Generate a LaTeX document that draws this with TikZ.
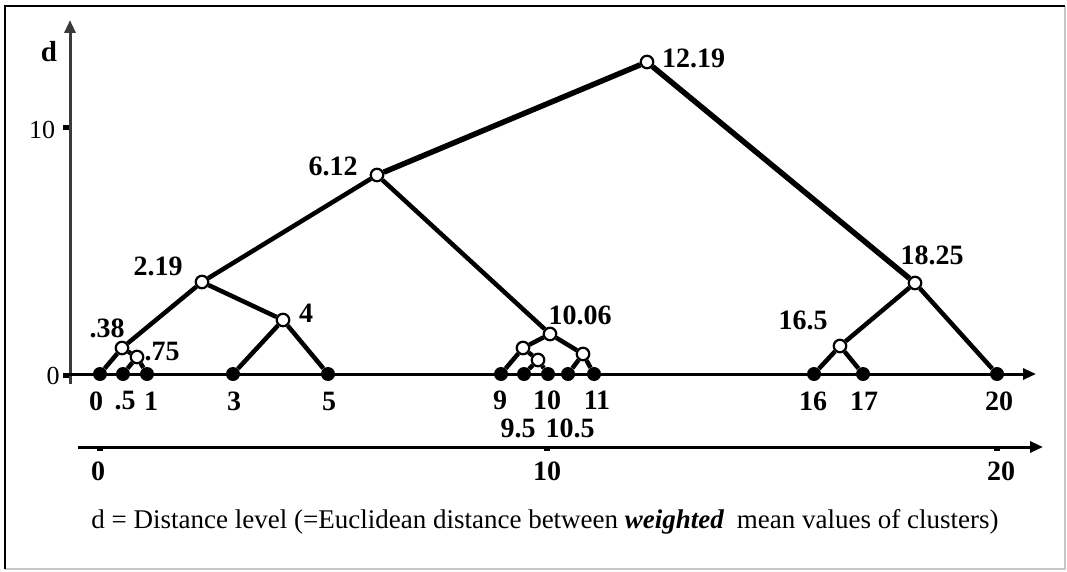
\documentclass[tikz,border=0pt]{standalone}
\usepackage{fontspec}
\setmainfont{Liberation Serif}
\usepackage{tikz}
\usetikzlibrary{arrows.meta}
\definecolor{DendroInk}{HTML}{000000}
\definecolor{DendroAxis}{HTML}{3A3A3A}
\definecolor{DendroFrame}{HTML}{C8C8C8}

\begin{document}
\begin{tikzpicture}[x=1pt,y=-1pt,>={Triangle[length=13pt,width=11pt]},
  leaf/.style={circle,fill=DendroInk,inner sep=0pt,minimum size=14pt},
  merge/.style={circle,draw=DendroInk,fill=white,line width=2.2pt,
    inner sep=0pt,minimum size=12.5pt},
  branch/.style={line width=4.5pt,DendroInk},
  trunk/.style={line width=5.5pt,DendroInk},
  lab/.style={font=\fontsize{28}{30}\selectfont\bfseries,inner sep=0pt},
  axlab/.style={font=\fontsize{26}{30}\selectfont,inner sep=0pt},
  axline/.style={line width=3pt,DendroAxis},
  axtick/.style={rectangle,fill=DendroInk,inner sep=0pt,
    minimum width=6pt,minimum height=5pt}]
  \useasboundingbox (0,0) rectangle (1067,572);
  % frame
  \draw[line width=1.5pt,DendroFrame] (1065,6) -- (1065,569) -- (5,569);
  \draw[line width=1.5pt,black] (5,569) -- (5,6) -- (1065,6);

  % axes
  \coordinate (yfoot) at (70,384);
  \coordinate (ytop) at (70,20);
  \coordinate (xstart) at (64,374);
  \coordinate (xend) at (1036,374);
  \coordinate (sstart) at (78,447);
  \coordinate (send) at (1043,447);
  \draw[axline,->] (yfoot) -- (ytop);
  \draw[axline,DendroInk,->] (xstart) -- (xend);
  \draw[axline,DendroInk,->] (sstart) -- (send);
  \node[axtick] (ytten) at (66,128) {};
  \node[axtick] (ytzero) at (66,375) {};
  \node[axtick] (stzero) at (100,448) {};
  \node[axtick] (stten) at (547,448) {};
  \node[axtick] (sttwenty) at (997,448) {};
  \node[font=\fontsize{29}{30}\selectfont\bfseries,inner sep=0pt] (dlab) at (49,52) {d};
  \node[axlab] (ylten) at (42,130) {10};
  \node[axlab] (ylzero) at (53,376) {0};
  \node[lab] (slzero) at (98,471) {0};
  \node[lab] (slten) at (547,471) {10};
  \node[lab] (sltwenty) at (1001,471) {20};

  % leaves
  \node[leaf] (p0) at (100,374) {};
  \node[leaf] (p05) at (123,374) {};
  \node[leaf] (p1) at (147,374) {};
  \node[leaf] (p3) at (233,374) {};
  \node[leaf] (p5) at (328,374) {};
  \node[leaf] (p9) at (501,374) {};
  \node[leaf] (p95) at (524,374) {};
  \node[leaf] (p10) at (548,374) {};
  \node[leaf] (p105) at (568,374) {};
  \node[leaf] (p11) at (594,374) {};
  \node[leaf] (p16) at (814,374) {};
  \node[leaf] (p17) at (863,374) {};
  \node[leaf] (p20) at (997,374) {};

  % merges
  \node[merge] (m038) at (122,348) {};
  \node[merge] (m075) at (137,357) {};
  \node[merge] (m4) at (283,320) {};
  \node[merge] (m219) at (202,282) {};
  \node[merge] (m612) at (377,175) {};
  \node[merge] (m1219) at (647,62) {};
  \node[merge] (m1006) at (550,334) {};
  \node[merge] (m925) at (523,348) {};
  \node[merge] (m975) at (538,360) {};
  \node[merge] (m1075) at (583,354) {};
  \node[merge] (m165) at (840,346) {};
  \node[merge] (m1825) at (915,283) {};

  \draw[trunk] (m1219) -- (m612);
  \draw[trunk] (m1219) -- (m1825);
  \draw[branch] (m612) -- (m219);
  \draw[branch] (m612) -- (m1006);
  \draw[branch] (m219) -- (m038);
  \draw[branch] (m219) -- (m4);
  \draw[branch] (m038) -- (p0);
  \draw[branch] (m038) -- (m075);
  \draw[branch] (m075) -- (p05);
  \draw[branch] (m075) -- (p1);
  \draw[branch] (m4) -- (p3);
  \draw[branch] (m4) -- (p5);
  \draw[branch] (m1006) -- (m925);
  \draw[branch] (m1006) -- (m1075);
  \draw[branch] (m925) -- (p9);
  \draw[branch] (m925) -- (m975);
  \draw[branch] (m975) -- (p95);
  \draw[branch] (m975) -- (p10);
  \draw[branch] (m1075) -- (p105);
  \draw[branch] (m1075) -- (p11);
  \draw[branch] (m1825) -- (m165);
  \draw[branch] (m1825) -- (p20);
  \draw[branch] (m165) -- (p16);
  \draw[branch] (m165) -- (p17);

  % merge labels
  \node[lab,anchor=west] (t1219) at (662,58) {12.19};
  \node[lab] (t612) at (333,166) {6.12};
  \node[lab] (t219) at (158,266) {2.19};
  \node[lab] (t4) at (306,313) {4};
  \node[lab] (t038) at (107,328) {.38};
  \node[lab] (t075) at (162,352) {.75};
  \node[lab] (t1006) at (580,315) {10.06};
  \node[lab] (t165) at (803,320) {16.5};
  \node[lab] (t1825) at (932,255) {18.25};

  % leaf labels
  \node[lab] (l0) at (96,401) {0};
  \node[lab] (l05) at (125,401) {.5};
  \node[lab] (l1) at (151,401) {1};
  \node[lab] (l3) at (234,401) {3};
  \node[lab] (l5) at (329,401) {5};
  \node[lab] (l9) at (500,400) {9};
  \node[lab] (l10) at (547,400) {10};
  \node[lab] (l11) at (597,400) {11};
  \node[lab] (l95) at (518,428) {9.5};
  \node[lab] (l105) at (570,428) {10.5};
  \node[lab] (l16) at (813,401) {16};
  \node[lab] (l17) at (864,401) {17};
  \node[lab] (l20) at (999,401) {20};

  \node[font=\fontsize{27}{30}\selectfont,inner sep=0pt] (caption) at (545,522)
    {d = Distance level (=Euclidean distance between \textbf{\textit{weighted}}\hspace{6pt} mean values of clusters)};
\end{tikzpicture}
\end{document}
